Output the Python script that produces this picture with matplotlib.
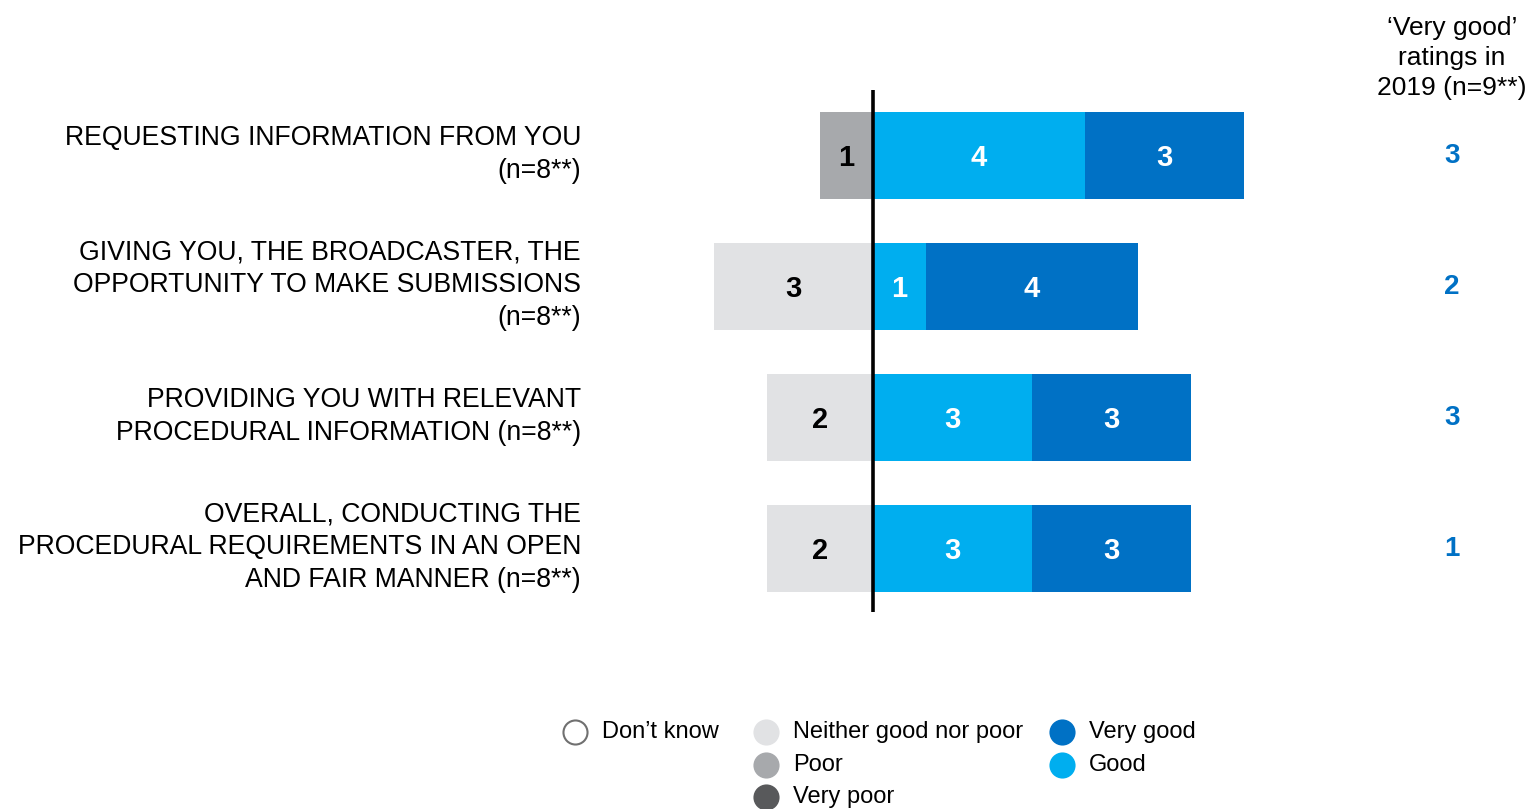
import numpy as np
import matplotlib.pyplot as plt

plt.rcParams['font.family'] = ['Liberation Sans', 'DejaVu Sans']

categories = [
    'REQUESTING INFORMATION FROM YOU\n(n=8**)',
    'GIVING YOU, THE BROADCASTER, THE\nOPPORTUNITY TO MAKE SUBMISSIONS\n(n=8**)',
    'PROVIDING YOU WITH RELEVANT\nPROCEDURAL INFORMATION (n=8**)',
    'OVERALL, CONDUCTING THE\nPROCEDURAL REQUIREMENTS IN AN OPEN\nAND FAIR MANNER (n=8**)',
]
very_poor = [0, 0, 0, 0]
poor = [1, 0, 0, 0]
neither = [0, 3, 2, 2]
good = [4, 1, 3, 3]
very_good = [3, 4, 3, 3]
very_good_2019 = [3, 2, 3, 1]

header_2019 = '\u2018Very good\u2019\nratings in\n2019 (n=9**)'
legend_labels = ["Don\u2019t know", 'Neither good nor poor', 'Poor', 'Very poor', 'Very good', 'Good']

C_VG = '#0071C5'
C_G = '#00AEEF'
C_NEITHER = '#E1E2E4'
C_POOR = '#A7A9AC'
C_VPOOR = '#58595B'

W, H = 1528, 809
fig = plt.figure(figsize=(W / 100, H / 100), dpi=100)
ax = fig.add_axes([0, 0, 1, 1])

# 1 unit = 53 px, zero line at x=873 px; rows 131 px apart starting at y=155 px
unit = 53.0
x0 = 873.0
ax.set_xlim(-x0 / unit, (W - x0) / unit)
row_px, row0 = 131.0, 155.0
ax.set_ylim((H - row0) / row_px, -row0 / row_px)
ax.axis('off')

y = np.arange(len(categories))
bh = 87 / row_px

neither = np.array(neither)
poor = np.array(poor)
very_poor = np.array(very_poor)
good = np.array(good)
very_good = np.array(very_good)

# negative side, stacked out from the zero line
ax.barh(y, -neither, height=bh, color=C_NEITHER)
ax.barh(y, -poor, left=-neither, height=bh, color=C_POOR)
ax.barh(y, -very_poor, left=-neither - poor, height=bh, color=C_VPOOR)
# positive side
ax.barh(y, good, height=bh, color=C_G)
ax.barh(y, very_good, left=good, height=bh, color=C_VG)


def seg_labels(vals, left, color):
    for i, (v, l) in enumerate(zip(vals, left)):
        if v != 0:
            ax.text(l + v / 2, i + 0.02, str(abs(v)), ha='center', va='center',
                    fontsize=21, fontweight='bold', color=color)


seg_labels(-neither, np.zeros(4), 'black')
seg_labels(-poor, -neither, 'black')
seg_labels(-very_poor, -neither - poor, 'white')
seg_labels(good, np.zeros(4), 'white')
seg_labels(very_good, good, 'white')

# zero line
ax.plot([0, 0], [(90 - row0) / row_px, (612 - row0) / row_px], color='black', lw=2.6,
        solid_capstyle='butt')

# category labels
x_lab = (581 - x0) / unit
for i, c in enumerate(categories):
    ax.text(x_lab, i - 0.005, c, ha='right', va='center', fontsize=19.2,
            linespacing=1.33, color='black')

# 2019 comparison column
x_col = (1452 - x0) / unit
ax.text(x_col, (58 - row0) / row_px, header_2019, ha='center', va='center',
        fontsize=19, linespacing=1.33, color='black')
for i, v in enumerate(very_good_2019):
    ax.text(x_col, i + 0.01, str(v), ha='center', va='center', fontsize=20,
            fontweight='bold', color=C_VG)

# legend drawn by hand in pixel layout
legend_pos = [(575, 732), (766, 732), (766, 765), (766, 797), (1062, 732), (1062, 765)]
legend_face = ['white', C_NEITHER, C_POOR, C_VPOOR, C_VG, C_G]
legend_edge = ['#707070', C_NEITHER, C_POOR, C_VPOOR, C_VG, C_G]
for (px, py), lab, fc, ec in zip(legend_pos, legend_labels, legend_face, legend_edge):
    xx = (px - x0) / unit
    yy = (py - row0) / row_px
    ax.scatter([xx], [yy], s=300, facecolor=fc, edgecolor=ec, linewidth=1.5, clip_on=False)
    ax.text(xx + 27 / unit, yy, lab, ha='left', va='center', fontsize=17, color='black')

fig.savefig('out.png', dpi=100)
